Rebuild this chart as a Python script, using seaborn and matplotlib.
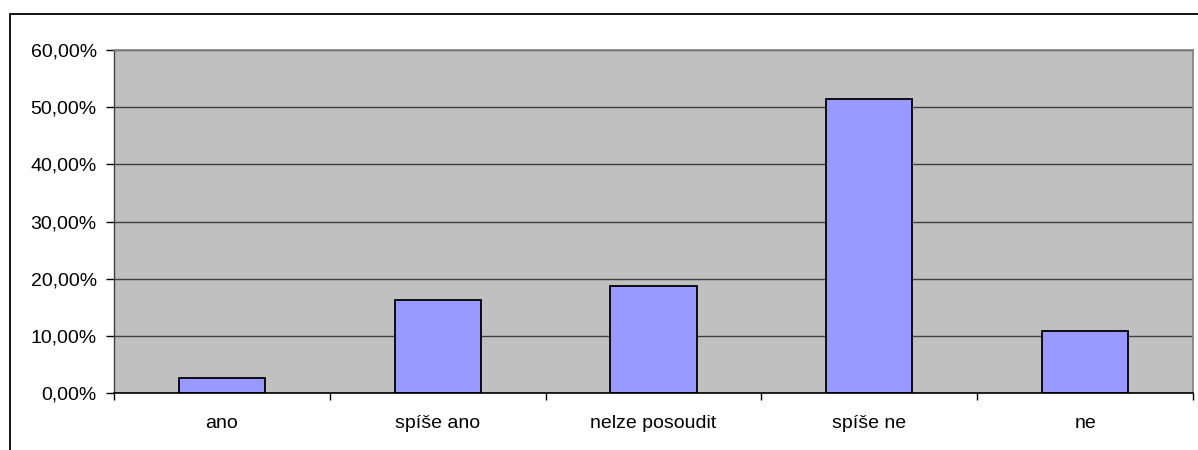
import matplotlib
matplotlib.use("Agg")
import matplotlib.pyplot as plt
import seaborn as sns
import pandas as pd
from matplotlib.patches import Rectangle
from matplotlib.ticker import FuncFormatter, FixedLocator

categories = ["ano", "spíše ano", "nelze posoudit", "spíše ne", "ne"]
values = [2.6, 16.3, 18.8, 51.4, 10.9]
yticks = [0, 10, 20, 30, 40, 50, 60]

df = pd.DataFrame({"kategorie": categories, "hodnota": values})

sns.set_style("white")
plt.rcParams["font.family"] = ["Liberation Sans", "DejaVu Sans"]

fig = plt.figure(figsize=(11.98, 4.5), dpi=100)
ax = fig.add_axes([114/1198, 1-393.3/450, (1193-114)/1198, (393.3-50)/450])

ax.set_facecolor("#C0C0C0")
ax.set_axisbelow(True)
ax.yaxis.grid(True, color="#404040", linewidth=1.0)
ax.xaxis.grid(False)

sns.barplot(data=df, x="kategorie", y="hodnota", ax=ax, color="#9999FF",
            saturation=1, width=0.40, edgecolor="black", linewidth=1.3)

ax.set_ylim(0, 60)
ax.set_xlim(-0.5, len(categories) - 0.5)
ax.set_yticks(yticks)
ax.yaxis.set_major_formatter(FuncFormatter(lambda v, p: f"{v:.2f}%".replace(".", ",")))
ax.set_xlabel("")
ax.set_ylabel("")

# x ticks: labels at centers, tick marks at category boundaries
ax.set_xticks(range(len(categories)))
ax.set_xticklabels(categories)
ax.xaxis.set_minor_locator(FixedLocator([i - 0.5 for i in range(len(categories) + 1)]))
ax.tick_params(axis="x", which="major", length=0, pad=15.5, labelsize=14, colors="black")
ax.tick_params(axis="x", which="minor", length=5, width=1, color="black", direction="out",
               bottom=True)
ax.tick_params(axis="y", which="major", length=6, width=1, color="black",
               direction="out", pad=6.5, labelsize=14, labelcolor="black", left=True)

for s in ["top", "right"]:
    ax.spines[s].set_visible(True)
    ax.spines[s].set_color("#808080")
    ax.spines[s].set_linewidth(1.2)
ax.spines["left"].set_color("#404040")
ax.spines["left"].set_linewidth(1.0)
ax.spines["bottom"].set_color("black")
ax.spines["bottom"].set_linewidth(1.2)

# outer chart frame
fig.patches.append(Rectangle((10/1198, -0.1), 1.2, 1 - 14/450 + 0.1,
                             transform=fig.transFigure, fill=False,
                             edgecolor="black", linewidth=1.3))

fig.savefig("out.png", dpi=100)
